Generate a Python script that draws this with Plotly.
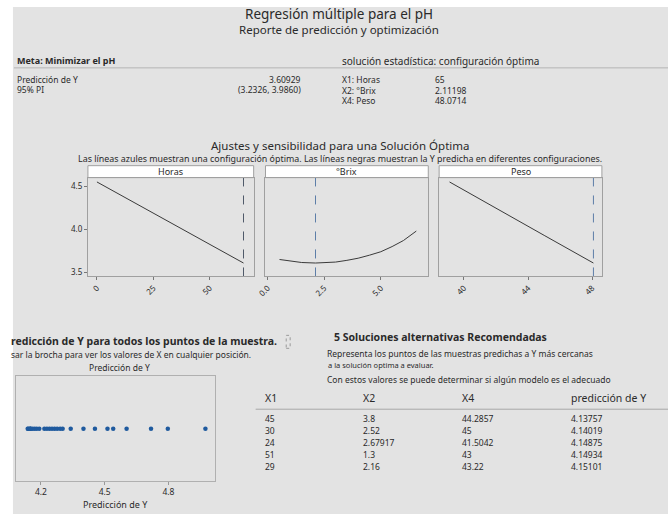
import plotly.graph_objects as go

W, H = 668, 515
FONT = "Noto Sans"
TXT = "#2a2a2a"

# ---------------- data ----------------
title = "Regresión múltiple para el pH"
subtitle = "Reporte de predicción y optimización"
pred_y = "3.60929"
pi95 = "(3.2326, 3.9860)"
opt_labels = ["X1: Horas", "X2: °Brix", "X4: Peso"]
opt_values = ["65", "2.11198", "48.0714"]

panel_names = ["Horas", "°Brix", "Peso"]
horas_x = [0, 25, 50, 65]
horas_y = [4.55, 4.19, 3.83, 3.609]
brix_x = [0.52, 1.0, 1.5, 2.11, 2.5, 3.0, 3.5, 4.0, 4.5, 5.0, 5.5, 6.0, 6.57]
brix_y = [3.65, 3.63, 3.615, 3.609, 3.611, 3.62, 3.64, 3.665, 3.70, 3.74, 3.80, 3.87, 3.98]
peso_x = [39.1, 42, 45, 48.07]
peso_y = [4.55, 4.25, 3.93, 3.609]
opt_x = [65, 2.11198, 48.0714]

pred_all = [4.1376, 4.1402, 4.1488, 4.1493, 4.1510, 4.160, 4.170, 4.180, 4.192,
            4.216, 4.228, 4.240, 4.252, 4.264, 4.276, 4.290, 4.302,
            4.34, 4.40, 4.454, 4.513, 4.54, 4.603, 4.718, 4.797, 4.974]

tab_x1 = ["45", "30", "24", "51", "29"]
tab_x2 = ["3.8", "2.52", "2.67917", "1.3", "2.16"]
tab_x4 = ["44.2857", "45", "41.5042", "43", "43.22"]
tab_pred = ["4.13757", "4.14019", "4.14875", "4.14934", "4.15101"]

# ---------------- helpers ----------------
def px(x):
    return x / W

def py(y):
    return 1 - y / H

ann = []
def text(x, y, s, size=9, anchor="left", color=TXT, bold=False, yanchor="middle"):
    if bold:
        s = "<b>" + s + "</b>"
    ann.append(dict(x=px(x), y=py(y), xref="paper", yref="paper", text=s,
                    showarrow=False, xanchor=anchor, yanchor=yanchor,
                    font=dict(family=FONT, size=size, color=color)))

shapes = []
def rect(x0, y0, x1, y1, fill, line=None, lw=1, dash=None):
    shapes.append(dict(type="rect", xref="paper", yref="paper",
                       x0=px(x0), x1=px(x1), y0=py(y1), y1=py(y0),
                       fillcolor=fill, line=dict(color=line or fill, width=lw if line else 0, dash=dash),
                       layer="below"))

def hline(x0, x1, y, color="#a8a8a8", w=1):
    shapes.append(dict(type="line", xref="paper", yref="paper",
                       x0=px(x0), x1=px(x1), y0=py(y), y1=py(y),
                       line=dict(color=color, width=w)))

# background
BG = "#e3e3e3"
rect(4, 7, W, H, BG)

# ---------------- header texts ----------------
text(334, 14, title, size=13.5, anchor="center")
text(334, 30, subtitle, size=11.5, anchor="center")
text(6, 61, "Meta: Minimizar el pH", size=9, bold=True)
text(336, 61, "solución estadística: configuración óptima", size=10)
hline(5, W, 68, color="#b5b5b5")
text(6, 80, "Predicción de Y", size=8.5)
text(6, 90, "95% PI", size=8.5)
text(298, 80, pred_y, size=8.5, anchor="right")
text(298, 90, pi95, size=8.5, anchor="right")
for i, (l, v) in enumerate(zip(opt_labels, opt_values)):
    text(336, 80 + 10.5 * i, l, size=8.5)
    text(430, 80 + 10.5 * i, v, size=8.5)

text(336, 146, "Ajustes y sensibilidad para una Solución Óptima", size=11.5, anchor="center")
text(336, 158.5, "Las líneas azules muestran una configuración óptima. Las líneas negras muestran la Y predicha en diferentes configuraciones.",
     size=8.9, anchor="center")

# ---------------- panels ----------------
panel_dom = [(80, 248), (260, 425), (436, 601)]
P_TOP, P_HDR, P_BOT = 166, 178, 277
for (x0, x1), name in zip(panel_dom, panel_names):
    rect(x0, P_TOP, x1, P_HDR, "white", line="#a0a0a0")
    text((x0 + x1) / 2, (P_TOP + P_HDR) / 2, name, size=9, anchor="center")

fig = go.Figure()
xs = [horas_x, brix_x, peso_x]
ys = [horas_y, brix_y, peso_y]
xranges = [[-4, 69.5], [-0.1, 7.1], [38.45, 48.6]]
ticks = [[0, 25, 50], [0.0, 2.5, 5.0], [40, 44, 48]]
ticktext = [["0", "25", "50"], ["0.0", "2.5", "5.0"], ["40", "44", "48"]]
YR = [3.453, 4.6]
dcolors = ["#505a6a", "#5d7ea8", "#5d7ea8"]
for i in range(3):
    ax = "" if i == 0 else str(i + 1)
    fig.add_trace(go.Scatter(x=xs[i], y=ys[i], mode="lines", line=dict(color="#3a3a3a", width=1),
                             xaxis="x" + ax, yaxis="y" + ax, showlegend=False, hoverinfo="skip"))
    fig.add_trace(go.Scatter(x=[opt_x[i], opt_x[i]], y=YR, mode="lines",
                             line=dict(color=dcolors[i], width=1, dash="dash"),
                             xaxis="x" + ax, yaxis="y" + ax, showlegend=False, hoverinfo="skip"))
    x0, x1 = panel_dom[i]
    fig.update_layout(**{
        "xaxis" + ax: dict(domain=[px(x0), px(x1)], range=xranges[i], tickvals=ticks[i], ticktext=ticktext[i],
                           tickangle=-45, showgrid=False, zeroline=False, showline=True, mirror=True,
                           linecolor="#a0a0a0", ticks="outside", ticklen=3, tickcolor="#777",
                           tickfont=dict(family=FONT, size=8, color=TXT), anchor="y" + ax, fixedrange=True),
        "yaxis" + ax: dict(domain=[py(P_BOT), py(P_HDR)], range=YR, tickvals=[3.5, 4.0, 4.5],
                           ticktext=["3.5", "4.0", "4.5"], showticklabels=(i == 0),
                           showgrid=False, zeroline=False, showline=True, mirror=True,
                           linecolor="#a0a0a0", ticks="outside" if i == 0 else "", ticklen=3, tickcolor="#777",
                           tickfont=dict(family=FONT, size=8, color=TXT), anchor="x" + ax, fixedrange=True),
    })

# ---------------- bottom left dot plot ----------------
text(0, 342, "redicción de Y para todos los puntos de la muestra.", size=10.5, bold=True)
rect(281, 336, 285, 349, BG, line="#9a9a9a", lw=1, dash="dot")
text(0, 355, "sar la brocha para ver los valores de X en cualquier posición.", size=8.5)
text(112, 368, "Predicción de Y", size=8.5, anchor="center")
fig.add_trace(go.Scatter(x=pred_all, y=[0] * len(pred_all), mode="markers",
                         marker=dict(color="#1f5a9e", size=4.5), xaxis="x4", yaxis="y4",
                         showlegend=False, hoverinfo="skip"))
fig.update_layout(
    xaxis4=dict(domain=[px(7), px(209)], range=[4.082, 5.02], tickvals=[4.2, 4.5, 4.8],
                ticktext=["4.2", "4.5", "4.8"], showgrid=False, zeroline=False, showline=True, mirror=True,
                linecolor="#b0b0b0", ticks="outside", ticklen=3, tickcolor="#999",
                tickfont=dict(family=FONT, size=8.5, color=TXT), anchor="y4", fixedrange=True),
    yaxis4=dict(domain=[py(482), py(377)], range=[-1, 1], showticklabels=False, showgrid=False,
                zeroline=False, showline=True, mirror=True, linecolor="#b0b0b0", anchor="x4", fixedrange=True),
)
text(108, 505, "Predicción de Y", size=9, anchor="center")

# ---------------- bottom right table ----------------
text(437, 338, "5 Soluciones alternativas Recomendadas", size=10.5, anchor="center", bold=True)
text(320, 354, "Representa los puntos de las muestras predichas a Y más cercanas", size=8.5)
text(321, 366, "a la solución optima a evaluar.", size=7.5)
text(320, 380, "Con estos valores se puede determinar si algún modelo es el adecuado", size=8.5)
cols_x = [257, 357, 457, 568]
for cx, h in zip(cols_x, ["X1", "X2", "X4", "predicción de Y"]):
    text(cx, 399, h, size=10.5)
hline(250, W, 410, color="#a8a8a8")
for r in range(5):
    yy = 419 + 12 * r
    for cx, col in zip(cols_x, [tab_x1, tab_x2, tab_x4, tab_pred]):
        text(cx, yy, col[r], size=8.5)

fig.update_layout(width=W, height=H, margin=dict(l=0, r=0, t=0, b=0),
                  paper_bgcolor="white", plot_bgcolor="white",
                  annotations=ann, shapes=shapes, showlegend=False)
fig.write_html("out.html", config={"displayModeBar": False},
               post_script="document.body.style.margin='0';document.body.style.overflow='hidden';")
